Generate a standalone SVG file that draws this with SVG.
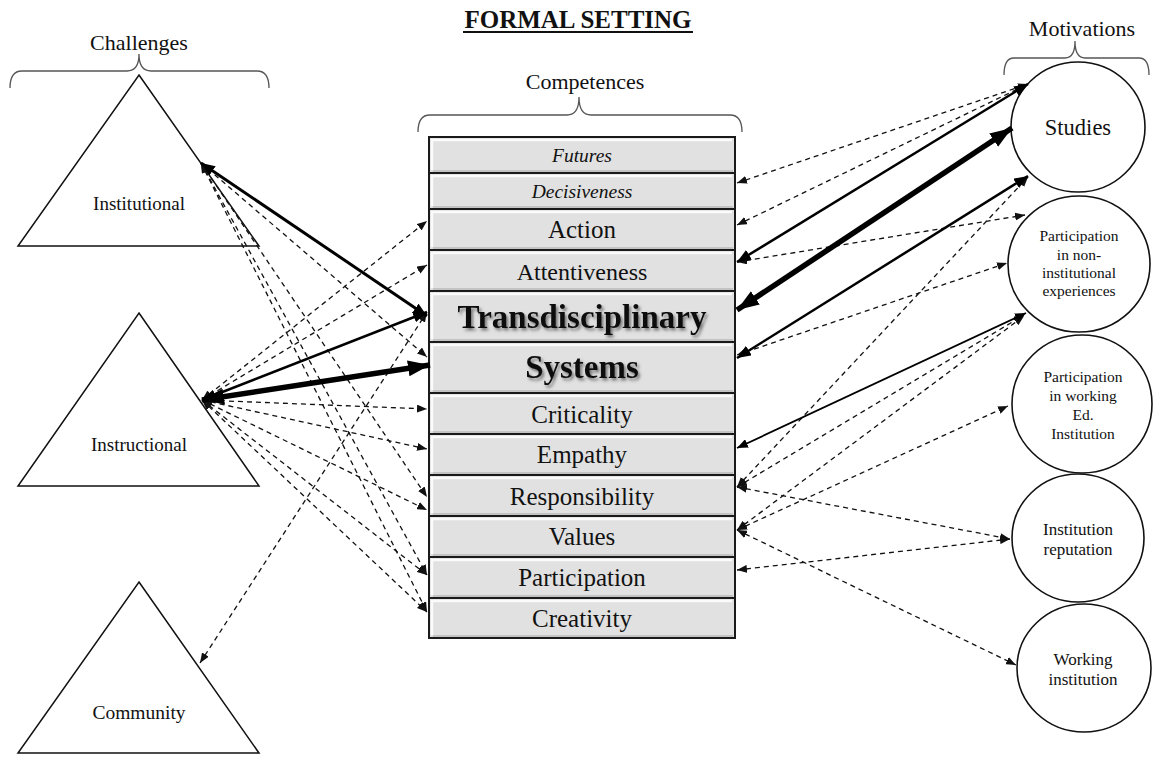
<svg xmlns="http://www.w3.org/2000/svg" width="1153" height="757" viewBox="0 0 1153 757">
<style>
text{font-family:"Liberation Serif","Times New Roman",serif;fill:#111;text-anchor:middle}
.lbl{font-size:22px}
.tri{fill:none;stroke:#111;stroke-width:1.5}
.brace{fill:none;stroke:#555;stroke-width:1.3}
.row{fill:#e1e1e1;stroke:#1a1a1a;stroke-width:2}
.hl{fill:none;stroke:#fbfbfb;stroke-width:2.5}
.sd{fill:none;stroke:#b9b9b9;stroke-width:1.5}
.rt{font-size:25px}
.it{font-size:19.5px;font-style:italic}
.bd{font-size:33px;font-weight:bold}
.circ{fill:none;stroke:#111;stroke-width:1.6}
.ct{font-size:15.5px}
.ct2{font-size:17px}
.d{fill:none;stroke:#111;stroke-width:1.3;stroke-dasharray:5 4;marker-start:url(#aS);marker-end:url(#aS)}
.s{fill:none;stroke:#000;stroke-width:2.5;marker-start:url(#aM);marker-end:url(#aM)}
.s1{fill:none;stroke:#000;stroke-width:1.8;marker-start:url(#aS2);marker-end:url(#aS2)}
.t{fill:none;stroke:#000;stroke-width:5.5;marker-start:url(#aL);marker-end:url(#aL)}
</style>
<defs>
<marker id="aS" markerUnits="userSpaceOnUse" markerWidth="10" markerHeight="8" refX="10" refY="4" orient="auto-start-reverse"><path d="M0,0 L10,4 L0,8 z" fill="#111"/></marker>
<marker id="aS2" markerUnits="userSpaceOnUse" markerWidth="11" markerHeight="9" refX="11" refY="4.5" orient="auto-start-reverse"><path d="M0,0 L11,4.5 L0,9 z" fill="#000"/></marker>
<marker id="aM" markerUnits="userSpaceOnUse" markerWidth="14" markerHeight="11" refX="14" refY="5.5" orient="auto-start-reverse"><path d="M0,0 L14,5.5 L0,11 z" fill="#000"/></marker>
<marker id="aL" markerUnits="userSpaceOnUse" markerWidth="22" markerHeight="16" refX="22" refY="8" orient="auto-start-reverse"><path d="M0,0 L22,8 L0,16 z" fill="#000"/></marker>
<filter id="sh" x="-10%" y="-30%" width="130%" height="170%"><feDropShadow dx="2" dy="2.5" stdDeviation="1.6" flood-color="#555" flood-opacity="0.75"/></filter>
</defs>
<rect width="1153" height="757" fill="#fff"/>

<g id="title">
<text x="578" y="28" style="font-size:25px;font-weight:bold">FORMAL SETTING</text>
<line x1="463" y1="32" x2="693" y2="32" stroke="#111" stroke-width="2"/>
</g>

<g id="challenges">
<text class="lbl" x="139" y="50">Challenges</text>
<path class="brace" d="M10,88 Q10,71 22,71 L127,71 Q139,71 139,54 Q139,71 151,71 L257,71 Q269,71 269,88"/>
</g>
<g id="competences">
<text class="lbl" x="585" y="89">Competences</text>
<path class="brace" d="M418,132 Q418,115 430,115 L567,115 Q579,115 579,97 Q579,115 591,115 L730,115 Q742,115 742,132"/>
</g>
<g id="motivations">
<text class="lbl" x="1082" y="36">Motivations</text>
<path class="brace" d="M1004,75 Q1004,58 1014,58 L1065,58 Q1075,58 1075,41 Q1075,58 1085,58 L1139,58 Q1149,58 1149,75"/>
</g>

<g id="node-institutional"><polygon class="tri" points="139,75 259,246 18,246"/><text x="139" y="210" style="font-size:19px">Institutional</text></g>
<g id="node-instructional"><polygon class="tri" points="139,313 259,486 18,486"/><text x="139" y="451" style="font-size:19px">Instructional</text></g>
<g id="node-community"><polygon class="tri" points="139,582 259,753 18,753"/><text x="139" y="719" style="font-size:19.5px">Community</text></g>

<g id="competence-box">
<g id="row-futures"><rect class="row" x="429" y="137" width="306" height="36"/><path class="hl" d="M432,170 V140 H732"/><path class="sd" d="M433,171 H733"/><text class="it" x="582" y="162">Futures</text></g>
<g id="row-decisiveness"><rect class="row" x="429" y="173" width="306" height="36"/><path class="hl" d="M432,206 V176 H732"/><path class="sd" d="M433,207 H733"/><text class="it" x="582" y="198">Decisiveness</text></g>
<g id="row-action"><rect class="row" x="429" y="209" width="306" height="41"/><path class="hl" d="M432,247 V212 H732"/><path class="sd" d="M433,248 H733"/><text class="rt" x="582" y="238">Action</text></g>
<g id="row-attentiveness"><rect class="row" x="429" y="250" width="306" height="41"/><path class="hl" d="M432,288 V253 H732"/><path class="sd" d="M433,289 H733"/><text class="rt" x="582" y="280" style="font-size:24px">Attentiveness</text></g>
<g id="row-transdisciplinary"><rect class="row" x="429" y="291" width="306" height="51"/><path class="hl" d="M432,339 V294 H732"/><path class="sd" d="M433,340 H733"/><text class="bd" x="582" y="328" filter="url(#sh)">Transdisciplinary</text></g>
<g id="row-systems"><rect class="row" x="429" y="342" width="306" height="51"/><path class="hl" d="M432,390 V345 H732"/><path class="sd" d="M433,391 H733"/><text class="bd" x="582" y="378" filter="url(#sh)">Systems</text></g>
<g id="row-criticality"><rect class="row" x="429" y="393" width="306" height="41"/><path class="hl" d="M432,431 V396 H732"/><path class="sd" d="M433,432 H733"/><text class="rt" x="582" y="423">Criticality</text></g>
<g id="row-empathy"><rect class="row" x="429" y="434" width="306" height="41"/><path class="hl" d="M432,472 V437 H732"/><path class="sd" d="M433,473 H733"/><text class="rt" x="582" y="463">Empathy</text></g>
<g id="row-responsibility"><rect class="row" x="429" y="475" width="306" height="41"/><path class="hl" d="M432,513 V478 H732"/><path class="sd" d="M433,514 H733"/><text class="rt" x="582" y="505">Responsibility</text></g>
<g id="row-values"><rect class="row" x="429" y="516" width="306" height="41"/><path class="hl" d="M432,554 V519 H732"/><path class="sd" d="M433,555 H733"/><text class="rt" x="582" y="545">Values</text></g>
<g id="row-participation"><rect class="row" x="429" y="557" width="306" height="41"/><path class="hl" d="M432,595 V560 H732"/><path class="sd" d="M433,596 H733"/><text class="rt" x="582" y="586">Participation</text></g>
<g id="row-creativity"><rect class="row" x="429" y="598" width="306" height="40"/><path class="hl" d="M432,635 V601 H732"/><path class="sd" d="M433,636 H733"/><text class="rt" x="582" y="627">Creativity</text></g>
</g>

<g id="node-studies"><ellipse class="circ" cx="1078" cy="127" rx="67" ry="65"/><text x="1078" y="135" style="font-size:22.5px">Studies</text></g>
<g id="node-noninstitutional"><ellipse class="circ" cx="1079" cy="264" rx="71" ry="68"/><text class="ct" x="1079" y="241">Participation</text><text class="ct" x="1079" y="260">in non-</text><text class="ct" x="1079" y="278">institutional</text><text class="ct" x="1079" y="296">experiences</text></g>
<g id="node-working-ed"><ellipse class="circ" cx="1082" cy="404" rx="70" ry="69"/><text class="ct" x="1083" y="382">Participation</text><text class="ct" x="1083" y="401">in working</text><text class="ct" x="1083" y="420">Ed.</text><text class="ct" x="1083" y="439">Institution</text></g>
<g id="node-reputation"><ellipse class="circ" cx="1078" cy="538" rx="66" ry="64"/><text class="ct2" x="1078" y="535">Institution</text><text class="ct2" x="1078" y="555">reputation</text></g>
<g id="node-working"><ellipse class="circ" cx="1084" cy="668" rx="67" ry="64"/><text class="ct2" x="1083" y="665">Working</text><text class="ct2" x="1083" y="685">institution</text></g>

<g id="connectors">
<!-- left side -->
<path class="d" d="M201,163 L427,357"/>
<path class="d" d="M201,163 L427,497"/>
<path class="d" d="M201,163 L427,575"/>
<path class="d" d="M201,163 L427,612"/>
<path class="d" d="M202,400 L427,221"/>
<path class="d" d="M202,400 L427,265"/>
<path class="d" d="M202,400 L427,409"/>
<path class="d" d="M202,400 L427,449"/>
<path class="d" d="M202,400 L427,510"/>
<path class="d" d="M202,400 L427,575"/>
<path class="d" d="M202,400 L427,612"/>
<path class="d" d="M200,663 L427,312"/>
<path class="s" d="M201,163 L427,316" style="stroke-width:3"/>
<path class="s" d="M202,400 L427,312"/>
<path class="t" d="M202,400 L430,365"/>
<!-- right side -->
<path class="d" d="M737,183 L1028,84"/>
<path class="d" d="M737,225 L1028,84"/>
<path class="d" d="M737,262 L1025,215"/>
<path class="d" d="M737,355 L1007,263"/>
<path class="d" d="M737,487 L1028,177"/>
<path class="d" d="M737,487 L1024,315"/>
<path class="d" d="M737,530 L1024,316"/>
<path class="d" d="M737,530 L1008,406"/>
<path class="d" d="M737,487 L1010,539"/>
<path class="d" d="M737,570 L1010,539"/>
<path class="d" d="M737,530 L1016,665"/>
<path class="s" d="M737,262 L1028,84"/>
<path class="t" d="M737,310 L1012,128"/>
<path class="s" d="M737,358 L1028,176"/>
<path class="s1" d="M737,448 L1026,313"/>
</g>
</svg>
